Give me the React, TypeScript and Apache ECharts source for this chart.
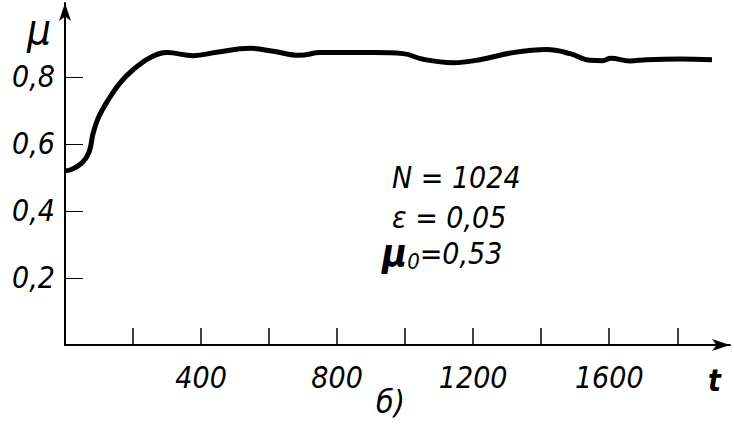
import React, { useEffect, useRef } from "react";
import * as echarts from "echarts";

const tValues = [0, 15, 50, 71, 83, 98, 127, 162, 200, 250, 300, 377, 446, 544, 612, 691, 750, 906, 994, 1053, 1141, 1220, 1317, 1417, 1485, 1544, 1580, 1605, 1660, 1711, 1808, 1902];
const muValues = [0.52, 0.522, 0.543, 0.576, 0.633, 0.678, 0.731, 0.782, 0.821, 0.857, 0.872, 0.863, 0.873, 0.885, 0.876, 0.864, 0.872, 0.872, 0.869, 0.852, 0.842, 0.851, 0.872, 0.881, 0.869, 0.849, 0.848, 0.855, 0.847, 0.851, 0.853, 0.851];
const xTickValues = [200, 400, 600, 800, 1000, 1200, 1400, 1600, 1800];
const xLabelValues = [400, 800, 1200, 1600];
const yTickValues = [0.2, 0.4, 0.6, 0.8];
const annotationLines = ["N = 1024", "ε = 0,05"];

const FONT = "'DejaVu Sans Condensed', 'DejaVu Sans', sans-serif";

export default function App() {
  const ref = useRef<HTMLDivElement>(null);
  useEffect(() => {
    if (!ref.current) return;
    const chart = echarts.init(ref.current, null, { renderer: "svg" });
    chart.setOption({
      animation: false,
      backgroundColor: "#ffffff",
      grid: { left: 65, right: 4, top: 3, bottom: 83 },
      xAxis: {
        type: "value",
        min: 0,
        max: 1955,
        interval: 200,
        splitLine: { show: false },
        axisLine: { lineStyle: { color: "#000", width: 2 }, symbol: ["none", "arrow"], symbolSize: [9, 18] },
        axisTick: { inside: true, length: 17, lineStyle: { color: "#000", width: 1.5 }, customValues: xTickValues },
        axisLabel: {
          customValues: xLabelValues,
          color: "#000",
          fontFamily: FONT,
          fontStyle: "italic",
          fontSize: 30,
          margin: 17,
          formatter: (v: number) => String(v),
        },
      },
      yAxis: {
        type: "value",
        min: 0,
        max: 1.02,
        interval: 0.2,
        splitLine: { show: false },
        axisLine: { lineStyle: { color: "#000", width: 2 }, symbol: ["none", "arrow"], symbolSize: [9, 18] },
        axisTick: { inside: true, length: 18, lineStyle: { color: "#000", width: 1 }, customValues: yTickValues },
        axisLabel: {
          customValues: yTickValues,
          color: "#000",
          fontFamily: FONT,
          fontStyle: "italic",
          fontSize: 30,
          margin: 10,
          formatter: (v: number) => v.toFixed(1).replace(".", ","),
        },
      },
      graphic: [
        { type: "text", left: 27, top: 8, style: { text: "μ", font: `italic 42px ${FONT}`, fill: "#000" } },
        { type: "text", left: 708, top: 365, style: { text: "t", font: `bold italic 30px ${FONT}`, fill: "#000" } },
        { type: "text", left: 376, top: 386, style: { text: "б)", font: `italic 32px ${FONT}`, fill: "#000" } },
        { type: "text", left: 392, top: 162, style: { text: annotationLines[0], font: `italic 30px ${FONT}`, fill: "#000" } },
        { type: "text", left: 392, top: 202, style: { text: annotationLines[1], font: `italic 30px ${FONT}`, fill: "#000" } },
        {
          type: "text",
          left: 382,
          top: 234,
          style: {
            text: "{m|μ}{s|0}{v|=0,53}",
            rich: {
              m: { font: `bold italic 38px ${FONT}`, fill: "#000" },
              s: { font: `italic 22px ${FONT}`, fill: "#000", padding: [16, 0, 0, 0] },
              v: { font: `italic 30px ${FONT}`, fill: "#000" },
            },
          },
        },
      ],
      series: [
        {
          type: "line",
          data: tValues.map((t, i) => [t, muValues[i]]),
          smooth: 0.4,
          showSymbol: false,
          lineStyle: { color: "#000", width: 5 },
        },
      ],
    });
    return () => chart.dispose();
  }, []);
  return <div ref={ref} style={{ width: 734, height: 428, position: "absolute", left: 0, top: 0 }} />;
}
